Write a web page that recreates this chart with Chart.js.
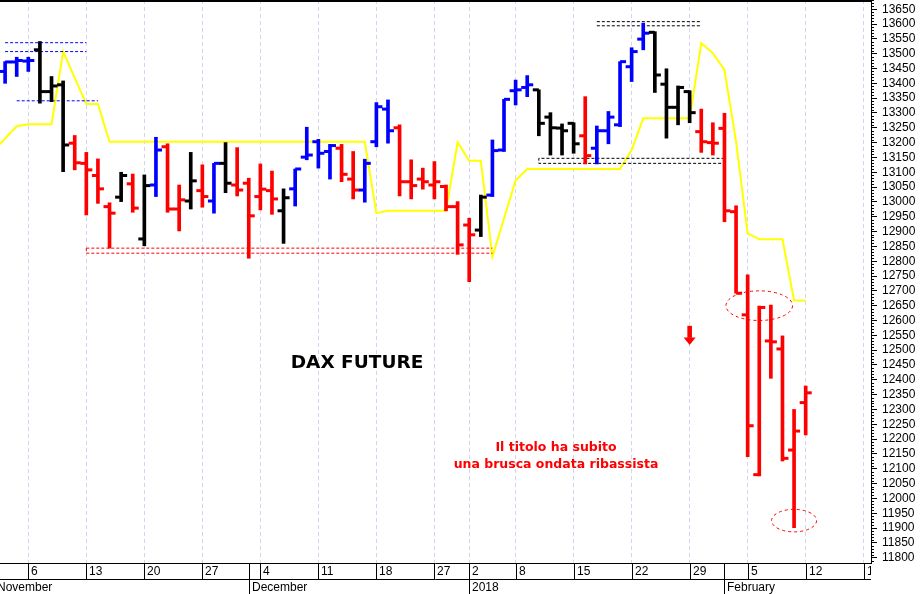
<!DOCTYPE html>
<html>
<head>
<meta charset="utf-8">
<script src="https://cdn.jsdelivr.net/npm/chart.js@4.4.1/dist/chart.umd.min.js"></script>
<style>
  html, body { margin: 0; padding: 0; background: #fff; }
  #wrap { width: 920px; height: 594px; }
</style>
</head>
<body>
<div id="wrap"><canvas id="daxChart" width="920" height="594"></canvas></div>
<script>
// trading days (one slot each on the x axis)
const dates = ['Nov 1','Nov 2','Nov 3','Nov 6','Nov 7','Nov 8','Nov 9','Nov 10','Nov 13','Nov 14','Nov 15','Nov 16','Nov 17',
  'Nov 20','Nov 21','Nov 22','Nov 23','Nov 24','Nov 27','Nov 28','Nov 29','Nov 30','Dec 1','Dec 4','Dec 5','Dec 6','Dec 7','Dec 8',
  'Dec 11','Dec 12','Dec 13','Dec 14','Dec 15','Dec 18','Dec 19','Dec 20','Dec 21','Dec 22','Dec 27','Dec 28','Dec 29',
  'Jan 2','Jan 3','Jan 4','Jan 5','Jan 8','Jan 9','Jan 10','Jan 11','Jan 12','Jan 15','Jan 16','Jan 17','Jan 18','Jan 19',
  'Jan 22','Jan 23','Jan 24','Jan 25','Jan 26','Jan 29','Jan 30','Jan 31','Feb 1','Feb 2','Feb 5','Feb 6','Feb 7','Feb 8','Feb 9',
  'Feb 12','Feb 13','Feb 14','Feb 15','Feb 16','Feb 19'];

// DAX future daily bars (Nov 1 is off the left edge)
const open = [null,
  13440,13472,13475,13513,13372,13395,13198,13130,13089,12984,
  13016,13061,12875,13057,13186,12976,13003,13038,13003,13130,
  13057,13063,13018,13038,12970,13044,13151,13203,13170,13181,
  13077,13040,13203,13313,13250,13068,13077,13057,13052,12984,
  12922,12905,13023,13175,13375,13386,13378,13286,13249,13265,
  13223,13181,13240,13260,13456,13549,13572,13397,13319,13372,
  13237,13200,13248,12967,12619,12080,12531,12504,12163,12323];
const high = [null,
  13473,13488,13488,13541,13423,13408,13224,13167,13145,12997,
  13100,13094,13091,13218,13196,13057,13167,13125,13130,13200,
  13183,13080,13128,13104,13044,13111,13252,13211,13194,13194,
  13170,13144,13335,13344,13260,13142,13114,13136,13057,13001,
  12945,13023,13209,13346,13411,13426,13378,13301,13263,13267,
  13355,13256,13305,13473,13520,13603,13574,13449,13391,13375,
  13313,13267,13299,12987,12754,12649,12652,12548,12300,12379];
const low = [null,
  13400,13423,13440,13333,13338,13102,13108,12956,12995,12844,
  13001,12965,12852,13018,12965,12902,12976,12982,12962,13031,
  13020,12810,12973,12958,12860,12986,13142,13114,13077,13068,
  13010,12999,13186,13198,13020,13010,13043,13010,12970,12823,
  12731,12883,13018,13170,13327,13355,13223,13158,13158,13164,
  13128,13128,13196,13254,13406,13513,13369,13215,13260,13267,
  13167,13158,12933,12692,12141,12076,12405,12126,11901,12214];
const close = [null,
  13472,13477,13477,13372,13391,13192,13132,13108,13044,12962,
  13089,12979,13055,13175,12976,13007,13071,13018,13130,13063,
  13040,12953,13043,13010,13014,13111,13158,13164,13190,13093,
  13040,13130,13321,13240,13068,13055,13068,13068,12984,12855,
  12889,13016,13173,13346,13378,13395,13265,13250,13240,13196,
  13156,13240,13286,13473,13507,13569,13428,13319,13386,13301,
  13203,13198,12970,12692,12245,12644,12528,12135,12227,12356];
// trend state of each bar: U up, D down, N neutral
const trend = [null,
  'U','U','U','N','N','N','D','D','D','D',
  'N','D','N','U','D','D','N','D','U','N',
  'D','D','D','D','N','U','U','U','U','D',
  'D','U','U','U','D','D','D','D','D','D',
  'D','N','U','U','U','U','N','N','N','N',
  'D','U','U','U','U','U','N','N','N','N',
  'D','D','D','D','D','D','D','D','D','D'];
// yellow trailing line
const stopLine = [13173,13214,13255,13262,13262,13262,13507,13418,13330,13330,
  13203,13203,13203,13203,13203,13203,13203,13203,13203,13203,
  13203,13203,13203,13203,13203,13203,13203,13203,13203,13203,
  13203,13203,13203,12962,12970,12970,12970,12970,12970,12970,
  13201,13139,13139,12815,12944,13072,13111,13111,13111,13111,
  13111,13111,13111,13111,13111,13175,13282,13282,13282,13282,
  13282,13535,13502,13445,13203,12894,12874,12874,12874,12667,12667];

// reference levels drawn dashed
const blueLevels = [13537, 13507, 13341];
const blueFrom = ['Nov 2', 'Nov 2', 'Nov 3'];
const blueTo = ['Nov 13', 'Nov 13', 'Nov 14'];
const redBand = [12844, 12827];       // Nov 13 -> Jan 4
const topBand = [13608, 13594];       // Jan 17 -> Jan 30
const midBand = [13147, 13130];       // Jan 10 -> Feb 1

// axis labels
const priceTicks = [11800,11850,11900,11950,12000,12050,12100,12150,12200,12250,12300,12350,12400,12450,12500,
  12550,12600,12650,12700,12750,12800,12850,12900,12950,13000,13050,13100,13150,13200,13250,13300,13350,
  13400,13450,13500,13550,13600,13650];
const weekLabels = ['6','13','20','27','4','11','18','27','2','8','15','22','29','5','12','19'];
const weekDays = ['Nov 6','Nov 13','Nov 20','Nov 27','Dec 4','Dec 11','Dec 18','Dec 27','Jan 2','Jan 8','Jan 15','Jan 22','Jan 29','Feb 5','Feb 12','Feb 19'];
const monthLabels = ['November','December','2018','February'];
const monthDays = ['Nov 1','Dec 1','Jan 2','Feb 1'];

const day = d => dates.indexOf(d);
const trendColors = { U: '#0000ff', D: '#ff0000', N: '#000000' };
const barDays = dates.map((d, i) => i).filter(i => high[i] != null && i < high.length);
const colorOf = i => trendColors[trend[i]] || '#000';
const TICK = 0.26;

const FONT = '"Liberation Sans", Arial, sans-serif';
Chart.defaults.font.family = FONT;

function dashed(points, color) {
  return {
    type: 'line', data: points, borderColor: color, borderWidth: 1,
    borderDash: [3, 2], pointRadius: 0, fill: false, tension: 0, order: 4
  };
}
function band(levels, from, to, color, closed) {
  const a = day(from), b = day(to);
  if (closed) {
    return [dashed([{x: b, y: levels[0]}, {x: a, y: levels[0]}, {x: a, y: levels[1]}, {x: b, y: levels[1]}, {x: b, y: levels[0]}], color)];
  }
  return levels.map(v => dashed([{x: a, y: v}, {x: b, y: v}], color));
}

const refSets = [
  ...blueLevels.map((v, k) => dashed([{x: day(blueFrom[k]), y: v}, {x: day(blueTo[k]), y: v}], '#0000ff')),
  ...band(redBand, 'Nov 13', 'Jan 4', '#ff0000', false),
  dashed([{x: day('Nov 13'), y: redBand[0]}, {x: day('Nov 13'), y: redBand[1]}], '#ff0000'),
  ...band(topBand, 'Jan 17', 'Jan 30', '#000000', false),
  ...band(midBand, 'Jan 10', 'Feb 1', '#000000', true)
];

const decorations = {
  id: 'decorations',
  afterDatasetsDraw(chart) {
    const {ctx, scales: {x, y}} = chart;
    ctx.save();
    // dotted ellipses
    ctx.strokeStyle = '#ff0000';
    ctx.lineWidth = 1;
    ctx.setLineDash([3, 3]);
    const ell = (c, v, rd, rv) => {
      const cx = x.getPixelForValue(c), cy = y.getPixelForValue(v);
      const rx = Math.abs(x.getPixelForValue(c + rd) - cx);
      const ry = Math.abs(y.getPixelForValue(v + rv) - cy);
      ctx.beginPath();
      ctx.ellipse(cx, cy, rx, ry, 0, 0, Math.PI * 2);
      ctx.stroke();
    };
    ell(day('Feb 6'), 12650, 2.87, 50);
    ell(day('Feb 9'), 11925, 1.94, 38);
    ctx.setLineDash([]);

    // down arrow
    const ax = x.getPixelForValue(day('Jan 29'));
    const a1 = y.getPixelForValue(12582), a2 = y.getPixelForValue(12517);
    const hs = a1 + (a2 - a1) * 0.6;
    ctx.fillStyle = '#ff0000';
    ctx.fillRect(ax - 2.3, a1, 4.6, hs - a1 + 0.5);
    ctx.beginPath();
    ctx.moveTo(ax - 6, hs);
    ctx.lineTo(ax + 6, hs);
    ctx.lineTo(ax, a2);
    ctx.closePath();
    ctx.fill();

    // texts
    ctx.textAlign = 'center';
    ctx.textBaseline = 'middle';
    ctx.fillStyle = '#000';
    ctx.font = 'bold 18.5px "DejaVu Sans", Verdana, sans-serif';
    ctx.fillText('DAX FUTURE', x.getPixelForValue(31.33), y.getPixelForValue(12456));
    ctx.fillStyle = '#ff0000';
    ctx.font = 'bold 12.5px "DejaVu Sans", Verdana, sans-serif';
    const tx = x.getPixelForValue(48.48);
    ctx.fillText('Il titolo ha subito', tx, y.getPixelForValue(12171));
    ctx.fillText('una brusca ondata ribassista', tx, y.getPixelForValue(12114));
    ctx.restore();
  },
  afterDraw(chart) {
    const {ctx, chartArea: a, scales: {x, y}} = chart;
    const H = chart.height;
    ctx.save();
    ctx.strokeStyle = '#000';
    // top frame
    ctx.lineWidth = 2;
    ctx.beginPath(); ctx.moveTo(0, a.top + 1); ctx.lineTo(a.right, a.top + 1); ctx.stroke();

    // minor ticks on the price axis
    ctx.lineWidth = 1;
    ctx.beginPath();
    for (let v = 11790; v <= 13680; v += 10) {
      if (v % 50 === 0) continue;
      const py = Math.round(y.getPixelForValue(v)) + 0.5;
      ctx.moveTo(a.right, py); ctx.lineTo(a.right + 3, py);
    }
    ctx.stroke();

    // two-row date axis
    const r1 = a.bottom + 0.5, r2 = a.bottom + 16.5;
    ctx.beginPath();
    ctx.moveTo(0, r1); ctx.lineTo(a.right, r1);
    ctx.moveTo(0, r2); ctx.lineTo(a.right, r2);
    ctx.stroke();

    ctx.beginPath();
    ctx.rect(0, a.bottom, a.right, H - a.bottom);
    ctx.clip();
    ctx.fillStyle = '#000';
    ctx.font = '12px ' + FONT;
    ctx.textAlign = 'left';
    ctx.textBaseline = 'middle';
    weekLabels.forEach((lab, k) => {
      const px = Math.round(x.getPixelForValue(day(weekDays[k]))) + 0.5;
      ctx.beginPath(); ctx.moveTo(px, r1); ctx.lineTo(px, r2); ctx.stroke();
      ctx.fillText(lab, px + 2.5, a.bottom + 9);
    });
    monthLabels.forEach((lab, k) => {
      const px = Math.round(x.getPixelForValue(day(monthDays[k]))) + 0.5;
      ctx.beginPath(); ctx.moveTo(px, r1); ctx.lineTo(px, H); ctx.stroke();
      ctx.fillText(lab, px + 2.5, a.bottom + 25);
    });
    ctx.restore();
  }
};

const myChart = new Chart(document.getElementById('daxChart'), {
  type: 'bar',
  data: {
    datasets: [
      {
        type: 'scatter',
        data: barDays.map(i => ({x: i - TICK, y: open[i]})),
        pointStyle: 'line', pointRadius: 3, pointHoverRadius: 3, pointBorderWidth: 3,
        pointBorderColor: c => colorOf(barDays[c.dataIndex]),
        order: 0
      },
      {
        type: 'scatter',
        data: barDays.map(i => ({x: i + TICK, y: close[i]})),
        pointStyle: 'line', pointRadius: 3, pointHoverRadius: 3, pointBorderWidth: 3,
        pointBorderColor: c => colorOf(barDays[c.dataIndex]),
        order: 0
      },
      {
        type: 'bar',
        data: barDays.map(i => ({x: i, y: [low[i], high[i]]})),
        backgroundColor: c => (c.raw ? colorOf(c.raw.x) : '#000'),
        borderWidth: 0,
        barThickness: 3,
        order: 1
      },
      {
        type: 'line',
        data: stopLine.map((v, i) => ({x: i, y: v})),
        borderColor: '#ffff00', borderWidth: 2, pointRadius: 0, fill: false, tension: 0,
        order: 5
      },
      ...refSets
    ]
  },
  options: {
    responsive: false,
    animation: false,
    events: [],
    layout: { padding: 0, autoPadding: false },
    plugins: { legend: { display: false }, tooltip: { enabled: false } },
    scales: {
      x: {
        type: 'linear', min: 0.56, max: 75.63, offset: false,
        afterBuildTicks: s => { s.ticks = weekDays.map(d => ({value: day(d)})); },
        afterFit: s => { s.height = 31; s.paddingLeft = 0; s.paddingRight = 0; },
        ticks: { display: false },
        grid: { color: '#d4d4f0', lineWidth: 1, drawTicks: false, offset: false },
        border: { display: false, dash: [4, 3] }
      },
      y: {
        position: 'right', min: 11782, max: 13681,
        afterBuildTicks: s => { s.ticks = priceTicks.map(v => ({value: v})); },
        afterFit: s => { s.width = 49; s.paddingTop = 0; s.paddingBottom = 0; },
        ticks: {
          autoSkip: false, color: '#000', padding: 5,
          font: { size: 12, family: FONT },
          callback: v => String(v)
        },
        grid: { drawOnChartArea: false, tickLength: 6, color: '#000' },
        border: { color: '#000', width: 1 }
      }
    }
  },
  plugins: [decorations]
});
</script>
</body>
</html>
